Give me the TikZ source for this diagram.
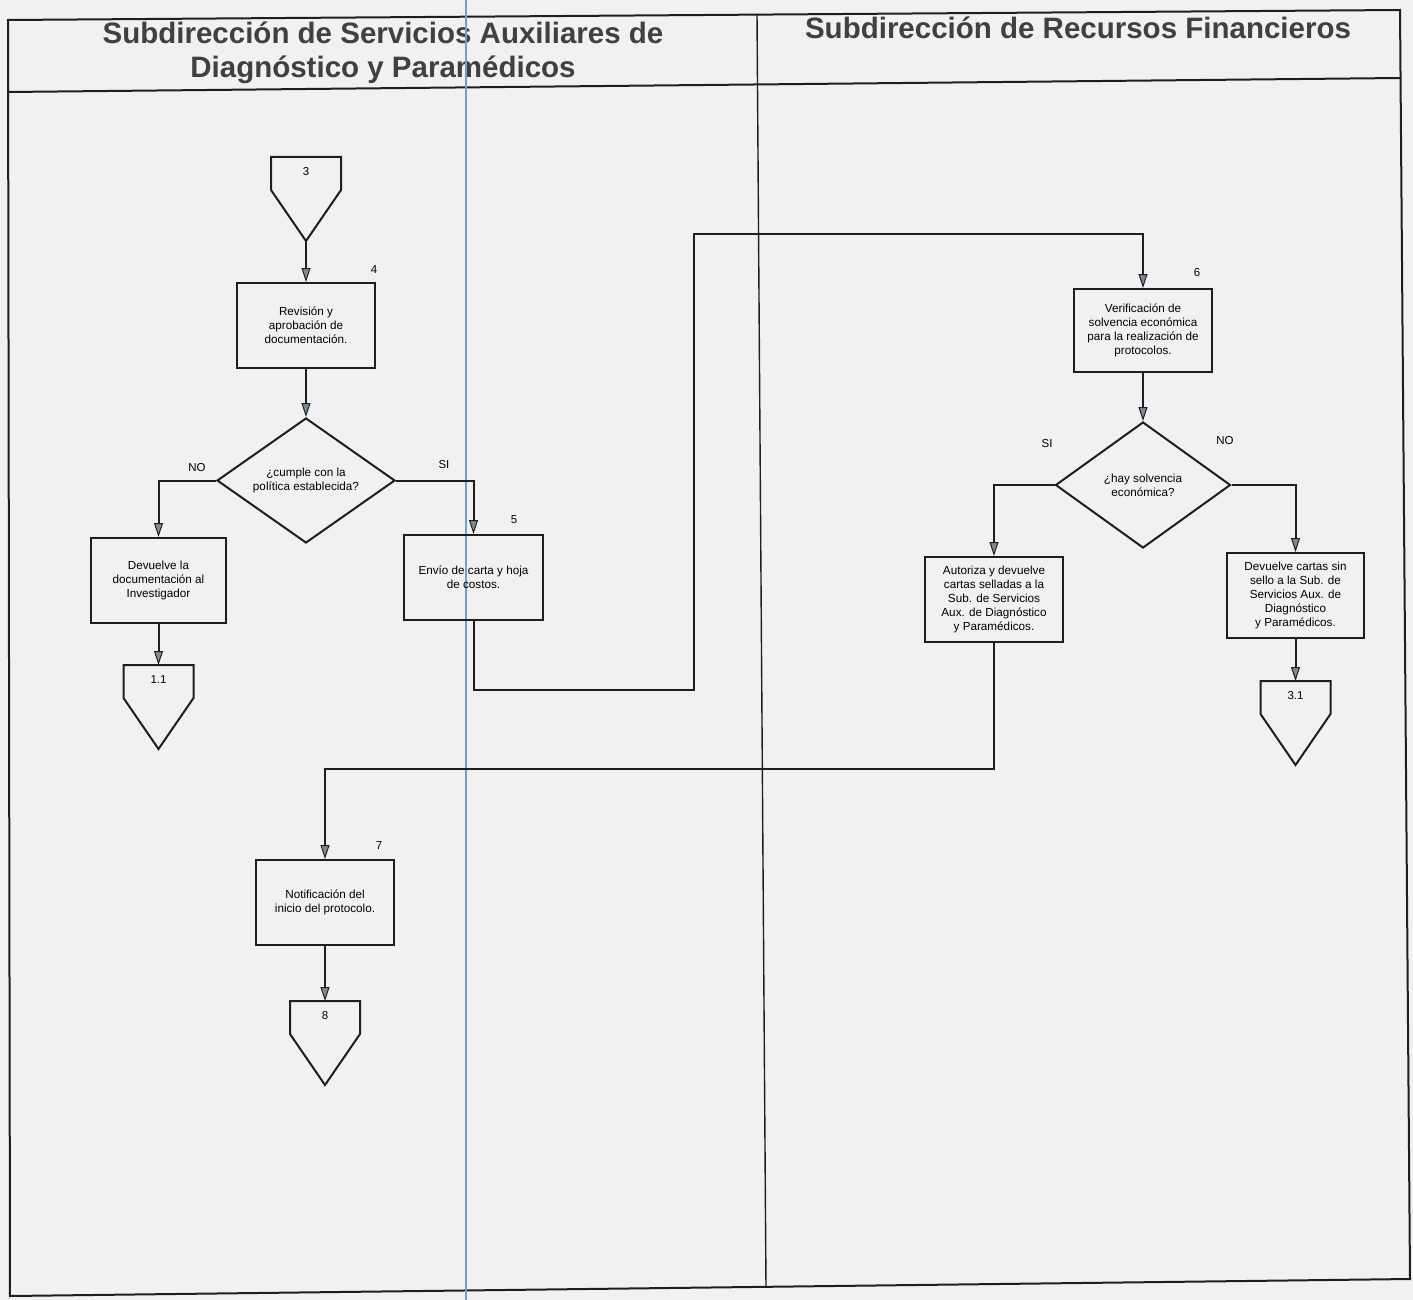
\documentclass[tikz,border=0pt]{standalone}
\usepackage{fontspec}
\setmainfont{Liberation Sans}
\usetikzlibrary{arrows.meta,shapes.geometric}
\definecolor{pagebg}{RGB}{241,241,243}
\definecolor{ink}{RGB}{30,30,30}
\definecolor{tipgray}{RGB}{125,138,144}
\definecolor{scanblue}{RGB}{120,158,190}
\newcommand\offpg[4]{%
  \draw[ln] (#2-35,#3) -- (#2+35,#3) -- (#2+35,#3+33) -- (#2,#3+84) -- (#2-35,#3+33) -- cycle;
  \node[lbl] (#1) at (#2,#3+15) {#4};
  \coordinate (#1top) at (#2,#3);
  \coordinate (#1tip) at (#2,#3+84);}
\begin{document}
\begin{tikzpicture}[x=1pt,y=-1pt,
  ln/.style={draw=ink,line width=2pt},
  arr/.style={ln,-{Triangle[length=14pt,width=9pt,fill=tipgray,line width=1pt]}},
  lbl/.style={font=\fontsize{11.5}{13}\selectfont,inner sep=0pt},
  procbox/.style={draw=ink,line width=2pt,minimum width=138pt,minimum height=85pt,
    align=center,font=\fontsize{11.7}{14}\selectfont,inner sep=2pt},
  decision/.style={diamond,draw=ink,line width=2pt,minimum width=178pt,minimum height=125pt,
    aspect=1.4,inner sep=0pt,align=center,font=\fontsize{11.7}{14}\selectfont},
  title/.style={font=\fontsize{29.5}{34}\selectfont\bfseries,text=ink!85,align=center}]
\useasboundingbox (0,0) rectangle (1413,1300);
\fill[pagebg] (0,0) rectangle (1413,1300);
% frame
\draw[ln] (8,20) -- (1400,10) -- (1410,1279) -- (10,1296) -- cycle;
\draw[ln] (8,92) -- (1400,78);
\draw[draw=ink,line width=1.4pt] (757,14) -- (766,1288);
% titles
\node[title] (t1) at (383,53) {Subdirección de Servicios Auxiliares de\\Diagnóstico y Paramédicos};
\node[title] (t2) at (1078,28) {Subdirección de Recursos Financieros};
% scan line
\draw[scanblue,line width=2pt] (466,0) -- (466,1300);
% connectors
\offpg{c3}{306}{157}{3}
\offpg{c11}{158.5}{665}{1.1}
\offpg{c31}{1295.5}{681}{3.1}
\offpg{c8}{325}{1001}{8}
% process boxes
\node[procbox] (b4) at (306,325.5) {Revisión y\\aprobación de\\documentación.};
\node[lbl] (n4) at (374,270) {4};
\node[decision] (d1) at (306,480.5) {¿cumple con la\\política establecida?};
\node[procbox,minimum width=135pt] (bno1) at (158.5,580.5) {Devuelve la\\documentación al\\Investigador};
\node[procbox,minimum width=139pt] (b5) at (473.5,577.5) {Envío de carta y hoja\\de costos.};
\node[lbl] (n5) at (514,520) {5};
\node[lbl] (lno1) at (197,468) {NO};
\node[lbl] (lsi1) at (444,465) {SI};
\node[procbox,minimum height=83pt] (b6) at (1143,330.5) {Verificación de\\solvencia económica\\para la realización de\\protocolos.};
\node[lbl] (n6) at (1197,273) {6};
\node[decision,minimum width=175pt,minimum height=126pt] (d2) at (1143,485) {¿hay solvencia\\económica?};
\node[lbl] (lsi2) at (1047,444) {SI};
\node[lbl] (lno2) at (1225,441) {NO};
\node[procbox] (b6a) at (994,599.5) {Autoriza y devuelve\\cartas selladas a la\\Sub. de Servicios\\Aux. de Diagnóstico\\y Paramédicos.};
\node[procbox,minimum width=137pt] (b6b) at (1295.5,595.5) {Devuelve cartas sin\\sello a la Sub. de\\Servicios Aux. de\\Diagnóstico\\y Paramédicos.};
\node[procbox] (b7) at (325,902.5) {Notificación del\\inicio del protocolo.};
\node[lbl] (n7) at (379,846) {7};
% routing points
\coordinate (k1) at (694,690);
\coordinate (k2) at (694,234);
\coordinate (k3) at (660,769);
% flows
\draw[arr] (c3tip) -- (b4.north);
\draw[arr] (b4.south) -- (d1.north);
\draw[arr] (d1.west) -| (bno1.north);
\draw[arr] (d1.east) -| (b5.north);
\draw[arr] (bno1.south) -- (c11top);
\draw[arr] (b5.south) |- (k1) -- (k2) -| (b6.north);
\draw[arr] (b6.south) -- (d2.north);
\draw[arr] (d2.west) -| (b6a.north);
\draw[arr] (d2.east) -| (b6b.north);
\draw[arr] (b6b.south) -- (c31top);
\draw[arr] (b6a.south) |- (k3) -| (b7.north);
\draw[arr] (b7.south) -- (c8top);
\end{tikzpicture}
\end{document}
